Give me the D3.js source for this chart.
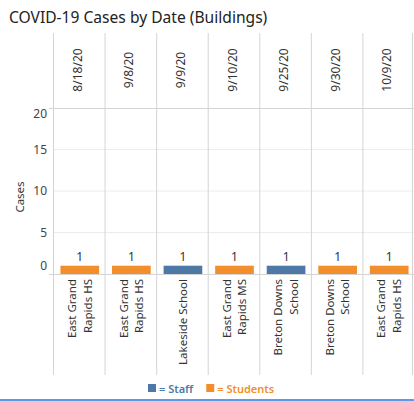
<!DOCTYPE html>
<html>
<head>
<meta charset="utf-8">
<script src="https://cdn.jsdelivr.net/npm/d3@7"></script>
<style>
  body { margin: 0; background: #fff; }
  text { font-family: "Noto Sans", "Open Sans", sans-serif; }
</style>
</head>
<body>
<div id="chart"></div>
<script>
'use strict';

const dates = ['8/18/20', '9/8/20', '9/9/20', '9/10/20', '9/25/20', '9/30/20', '10/9/20'];
const buildings = ['East Grand\nRapids HS', 'East Grand\nRapids HS', 'Lakeside School', 'East Grand\nRapids MS',
  'Breton Downs\nSchool', 'Breton Downs\nSchool', 'East Grand\nRapids HS'];
const groups = ['Students', 'Students', 'Staff', 'Students', 'Staff', 'Students', 'Students'];
const cases = [1, 1, 1, 1, 1, 1, 1];
const yTicks = [0, 5, 10, 15, 20];
const legendKeys = ['Staff', 'Students'];

const colors = {
  'Staff': '#4e79a7',
  'Students': '#f28e2b',
  'grid': '#d4d4d4',
  'faint': '#ececec',
  'text': '#333'
};

const width = 414, height = 401;
const left = 53, right = 414;
const headTop = 33, plotTop = 108, plotBottom = 274, footBottom = 375;

const data = dates.map((d, i) => ({ i: i, date: d, building: buildings[i], group: groups[i], value: cases[i] }));

const svg = d3.select('#chart').append('svg')
  .attr('width', width)
  .attr('height', height);

// title
svg.append('text')
  .attr('x', 9).attr('y', 23)
  .attr('font-size', 15.6)
  .attr('fill', '#222')
  .text('COVID-19 Cases by Date (Buildings)');

const x = d3.scaleBand().domain(d3.range(dates.length)).range([left, right]).padding(0);
const y = d3.scaleLinear().domain([0, 20]).range([plotBottom, plotTop]);

// faint gridlines
svg.append('g').selectAll('line')
  .data(yTicks.filter(t => t > 0 && t < 20))
  .enter().append('line')
  .attr('x1', left).attr('x2', right)
  .attr('y1', d => y(d)).attr('y2', d => y(d))
  .attr('stroke', colors.faint);

// column separators
svg.append('g').selectAll('line')
  .data(d3.range(dates.length + 1))
  .enter().append('line')
  .attr('x1', d => d < dates.length ? x(d) + 0.5 : right - 1.5)
  .attr('x2', d => d < dates.length ? x(d) + 0.5 : right - 1.5)
  .attr('y1', headTop).attr('y2', footBottom)
  .attr('stroke', colors.grid);

// top and bottom borders of the plot
[plotTop, plotBottom].forEach(v => {
  svg.append('line')
    .attr('x1', left - 4).attr('x2', right)
    .attr('y1', v + 0.5).attr('y2', v + 0.5)
    .attr('stroke', colors.grid);
});

// y axis
const yAxis = svg.append('g')
  .attr('transform', `translate(${left - 6},0)`)
  .call(d3.axisLeft(y).tickValues(yTicks).tickSize(0).tickPadding(0));
yAxis.select('.domain').remove();
yAxis.selectAll('text')
  .attr('font-family', '"Noto Sans", sans-serif')
  .attr('font-size', 12)
  .attr('fill', '#444')
  .attr('transform', d => d === 0 ? 'translate(0,-8)' : (d === 20 ? 'translate(0,6)' : null));

svg.append('text')
  .attr('transform', `translate(24,${(plotTop + plotBottom) / 2 + 6}) rotate(-90)`)
  .attr('text-anchor', 'middle')
  .attr('font-size', 11.5)
  .attr('fill', '#333')
  .text('Cases');

// date header
svg.append('g').selectAll('text')
  .data(data)
  .enter().append('text')
  .attr('transform', d => `translate(${x(d.i) + x.bandwidth() / 2 + 3},${70}) rotate(-90)`)
  .attr('text-anchor', 'middle')
  .attr('font-size', 12)
  .attr('fill', '#333')
  .text(d => d.date);

// bars
const barW = x.bandwidth() * 0.75;
svg.append('g').selectAll('rect')
  .data(data)
  .enter().append('rect')
  .attr('x', d => x(d.i) + (x.bandwidth() - barW) / 2 + 1)
  .attr('y', d => y(d.value))
  .attr('width', barW)
  .attr('height', d => y(0) - y(d.value))
  .attr('fill', d => colors[d.group]);

// value labels
svg.append('g').selectAll('text')
  .data(data)
  .enter().append('text')
  .attr('x', d => x(d.i) + x.bandwidth() / 2 + 1)
  .attr('y', d => y(d.value) - 5)
  .attr('text-anchor', 'middle')
  .attr('font-size', 12)
  .attr('fill', '#333')
  .text(d => d.value);

// building labels, rotated, two lines
const bl = svg.append('g').selectAll('g')
  .data(data)
  .enter().append('g')
  .attr('transform', d => `translate(${x(d.i) + x.bandwidth() / 2 + 1},${plotBottom + 5}) rotate(-90)`);
bl.each(function (d) {
  const lines = d.building.split('\n');
  const n = lines.length;
  d3.select(this).selectAll('text')
    .data(lines)
    .enter().append('text')
    .attr('x', 0)
    .attr('y', (l, k) => (k - (n - 1) / 2) * 15.5 + 4)
    .attr('text-anchor', 'end')
    .attr('font-size', 11.5)
    .attr('fill', '#333')
    .text(l => l);
});

// legend
const lg = svg.append('g').attr('transform', 'translate(148,389)');
let lx = 0;
legendKeys.forEach(k => {
  lg.append('rect')
    .attr('x', lx).attr('y', -5)
    .attr('width', 8).attr('height', 8)
    .attr('fill', colors[k]);
  const t = lg.append('text')
    .attr('x', lx + 11).attr('y', 4)
    .attr('font-size', 11)
    .attr('font-weight', 600)
    .attr('fill', colors[k])
    .text('= ' + k);
  lx += t.node().getComputedTextLength() + 11 + 13;
});

// bottom highlight bar
svg.append('rect')
  .attr('x', 0).attr('y', height - 2)
  .attr('width', width).attr('height', 2)
  .attr('fill', '#5a9bef');
</script>
</body>
</html>
